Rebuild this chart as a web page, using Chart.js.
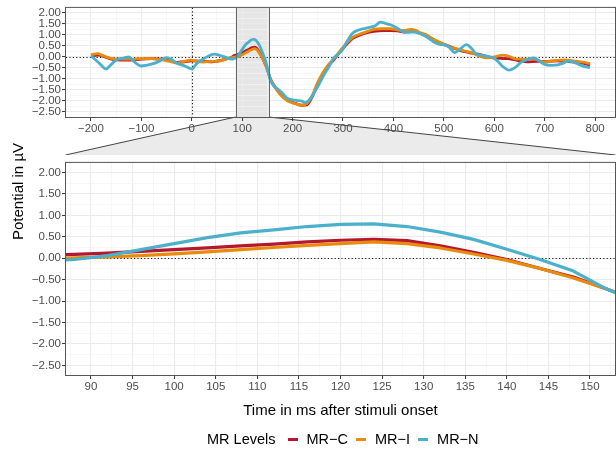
<!DOCTYPE html>
<html>
<head>
<meta charset="utf-8">
<script src="https://cdn.jsdelivr.net/npm/chart.js@4.4.1/dist/chart.umd.min.js"></script>
<style>
  body { margin: 0; background: #fff; }
  #wrap { position: relative; width: 616px; height: 455px; overflow: hidden;
          font-family: "Liberation Sans", Arial, Helvetica, sans-serif; }
  #overview { position: absolute; left: 0; top: 0; }
  #detail { position: absolute; left: 0; top: 155px; }
  #ytitle { position: absolute; left: 9px; top: 140px; height: 102px; line-height: 18px;
            font-size: 15px; font-weight: 400; color: #000; white-space: nowrap; text-align: center;
            writing-mode: vertical-rl; transform: rotate(180deg); }
  #legend { position: absolute; left: 207px; top: 430px; height: 18px; display: flex;
            align-items: center; font-size: 14.5px; font-weight: 400; color: #000; white-space: nowrap; }
  #legend .key { display: inline-block; width: 10px; height: 3px; margin: 0 9px 0 12px; }
  #legend .name { margin-right: -4px; }
</style>
</head>
<body>
<div id="wrap">
  <canvas id="overview" width="616" height="155"></canvas>
  <canvas id="detail" width="616" height="300"></canvas>
  <div id="ytitle">Potential in µV</div>
  <div id="legend"></div>
</div>
<script>
Chart.defaults.font.family = '"Liberation Sans", Arial, Helvetica, sans-serif';
Chart.defaults.color = '#4D4D4D';

const seriesNames = ['MR\u2212C', 'MR\u2212I', 'MR\u2212N'];
const seriesColors = ['#B5172E', '#E88A0B', '#4BB0CC'];

// grand averages: time (ms after onset) and potential (µV)
const mrC_ms = [-200, -185, -170, -155, -140, -122, -100, -80, -60, -45, -30, -15, 0, 24, 40, 64, 80, 84, 88, 92,
  96, 100, 104, 108, 112, 116, 120, 124, 128, 132, 136, 140, 144, 148, 152, 156, 165, 175, 189, 205,
  218, 228, 238, 249, 260, 270, 281, 295, 308, 320, 335, 348, 361, 378, 394, 408, 421, 441, 455, 466,
  480, 495, 506, 520, 532, 550, 572, 598, 626, 645, 665, 685, 704, 724, 744, 765, 780, 790];
const mrC_uv = [0.05, 0.08, -0.02, -0.12, -0.14, -0.14, -0.10, -0.08, -0.10, -0.15, -0.25, -0.22, -0.18, -0.20, -0.22, -0.12, 0.00, 0.06, 0.09, 0.12,
  0.16, 0.20, 0.24, 0.29, 0.33, 0.38, 0.42, 0.44, 0.41, 0.29, 0.14, -0.03, -0.24, -0.44, -0.72, -1.00, -1.35, -1.65, -1.95, -2.10,
  -2.20, -2.18, -1.85, -1.27, -0.80, -0.42, -0.15, 0.25, 0.60, 0.85, 1.01, 1.10, 1.16, 1.20, 1.20, 1.18, 1.13, 1.16, 1.05, 0.95,
  0.75, 0.58, 0.53, 0.40, 0.30, 0.20, 0.10, -0.04, -0.08, -0.15, -0.22, -0.20, -0.20, -0.18, -0.20, -0.25, -0.30, -0.37];

const mrI_ms = [-200, -187, -175, -160, -140, -122, -100, -82, -70, -56, -40, -29, -15, -2, 10, 24, 40, 51, 65, 77,
  84, 88, 92, 96, 100, 104, 108, 112, 116, 120, 124, 128, 132, 136, 140, 144, 148, 152, 156, 165,
  175, 189, 205, 218, 228, 238, 249, 260, 270, 281, 295, 308, 320, 335, 348, 361, 378, 394, 410, 421,
  434, 445, 455, 466, 480, 499, 512, 525, 540, 552, 570, 585, 600, 618, 630, 645, 665, 678, 698, 715,
  731, 745, 757, 775, 790];
const mrI_uv = [0.10, 0.15, 0.05, -0.07, -0.10, -0.10, -0.08, -0.07, -0.10, -0.14, -0.22, -0.28, -0.20, -0.14, -0.20, -0.23, -0.20, -0.20, -0.12, -0.03,
  -0.01, 0.01, 0.03, 0.06, 0.10, 0.15, 0.20, 0.25, 0.30, 0.34, 0.38, 0.34, 0.24, 0.10, -0.05, -0.24, -0.46, -0.72, -1.00, -1.38,
  -1.70, -1.98, -2.12, -2.18, -2.12, -1.80, -1.20, -0.72, -0.38, -0.10, 0.30, 0.65, 0.90, 1.05, 1.15, 1.25, 1.28, 1.28, 1.22, 1.20,
  1.25, 1.20, 1.08, 1.00, 0.80, 0.60, 0.45, 0.38, 0.28, 0.22, 0.05, -0.04, 0.00, 0.08, 0.02, -0.10, -0.10, -0.10, -0.22, -0.18,
  -0.14, -0.15, -0.18, -0.24, -0.30];

const mrN_ms = [-200, -185, -170, -160, -150, -135, -125, -115, -100, -90, -80, -65, -50, -40, -30, -15, 0, 10, 25, 45,
  65, 80, 84, 88, 92, 96, 100, 104, 108, 112, 116, 120, 124, 128, 132, 136, 140, 144, 148, 152,
  156, 162, 169, 178, 189, 200, 209, 218, 225, 233, 242, 252, 262, 272, 281, 290, 298, 308, 318, 326,
  335, 345, 354, 364, 374, 384, 394, 408, 421, 431, 441, 450, 460, 470, 480, 490, 500, 510, 522, 532,
  545, 555, 565, 580, 598, 607, 615, 630, 640, 653, 665, 678, 690, 700, 712, 726, 737, 748, 760, 771,
  780, 790];
const mrN_uv = [0.05, -0.25, -0.54, -0.35, -0.14, -0.05, 0.00, -0.20, -0.41, -0.38, -0.33, -0.20, -0.03, -0.12, -0.28, -0.40, -0.54, -0.30, -0.06, 0.13,
  0.00, -0.10, -0.07, -0.03, 0.06, 0.20, 0.34, 0.48, 0.59, 0.66, 0.74, 0.79, 0.80, 0.74, 0.61, 0.44, 0.21, -0.03, -0.30, -0.72,
  -1.05, -1.30, -1.42, -1.60, -1.87, -1.95, -1.98, -2.00, -2.07, -1.95, -1.65, -1.25, -0.82, -0.45, -0.07, 0.12, 0.30, 0.70, 1.05, 1.18,
  1.25, 1.30, 1.35, 1.42, 1.58, 1.52, 1.46, 1.30, 1.13, 1.12, 1.13, 1.08, 0.98, 0.85, 0.68, 0.58, 0.56, 0.45, 0.20, 0.35,
  0.56, 0.38, 0.12, 0.06, -0.04, -0.20, -0.40, -0.60, -0.50, -0.25, -0.12, -0.04, -0.20, -0.34, -0.38, -0.36, -0.28, -0.19, -0.26, -0.37,
  -0.44, -0.48];

// axis breaks
const overviewXTicks = [-200, -100, 0, 100, 200, 300, 400, 500, 600, 700, 800];
const detailXTicks = [90, 95, 100, 105, 110, 115, 120, 125, 130, 135, 140, 145, 150];
const yTicks = [-2.5, -2, -1.5, -1, -0.5, 0, 0.5, 1, 1.5, 2];

// data window, zoom window and y limits (each padded by 5% like ggplot)
const timeLimits = [-200, 790];
const zoomLimits = [90, 150];
const yLimits = [-2.5, 2.0];

function expand([lo, hi]) {
  const p = (hi - lo) * 0.05;
  return [lo - p, hi + p];
}
const overviewX = expand(timeLimits);
const detailX = expand(zoomLimits);
const yRange = expand(yLimits);

// major breaks plus minor ones halfway between them
function withMinor(major, [lo, hi]) {
  const half = (major[1] - major[0]) / 2;
  const out = [];
  for (let v = major[0] - half; v <= major[major.length - 1] + half + 1e-9; v += half) {
    const r = Math.round(v * 1e6) / 1e6;
    if (r < lo || r > hi) continue;
    out.push({ value: r, minor: !major.some(m => Math.abs(m - r) < 1e-6) });
  }
  return out;
}

const minus = s => s.replace('-', '\u2212');
const fmtX = v => minus(String(v));
const fmtY = v => minus(v.toFixed(2));

const series = [[mrC_ms, mrC_uv], [mrI_ms, mrI_uv], [mrN_ms, mrN_uv]];

// MR-C is drawn first and MR-N last, so MR-N sits on top
function buildDatasets(width, smooth) {
  return series.map(([t, v], i) => ({
    label: seriesNames[i],
    data: t.map((ms, j) => ({ x: ms, y: v[j] })),
    order: series.length - i,
    borderColor: seriesColors[i],
    backgroundColor: seriesColors[i],
    borderWidth: width,
    pointRadius: 0,
    tension: 0,
    cubicInterpolationMode: smooth ? 'monotone' : 'default',
    borderJoinStyle: 'round',
    clip: 0
  }));
}

const gridStyle = {
  color: c => (c.tick && c.tick.minor ? '#F3F3F3' : '#EBEBEB'),
  lineWidth: c => (c.tick && c.tick.minor ? 0.7 : 1.1),
  tickColor: c => (c.tick && c.tick.minor ? 'rgba(0,0,0,0)' : '#333333'),
  tickLength: 4,
  tickWidth: 1
};

function axisOptions(range, major, fmt, size, horizontal) {
  return {
    type: 'linear',
    min: range[0],
    max: range[1],
    grid: gridStyle,
    border: { display: false },
    afterBuildTicks: s => { s.ticks = withMinor(major, range); },
    afterFit: s => { if (horizontal) s.height = size; else s.width = size; },
    ticks: {
      autoSkip: false,
      maxRotation: 0,
      minRotation: 0,
      padding: 1,
      color: '#4D4D4D',
      font: { size: 11.5 },
      callback: (v, i, ticks) => (ticks[i].minor ? '' : fmt(v))
    }
  };
}

// dotted reference lines at 0 µV (and at stimulus onset)
const refLines = {
  id: 'refLines',
  beforeDatasetsDraw(chart, args, opts) {
    const { ctx, chartArea: a, scales: { x, y } } = chart;
    ctx.save();
    ctx.strokeStyle = '#1A1A1A';
    ctx.lineWidth = 1.1;
    ctx.setLineDash([1.2, 2.2]);
    const y0 = Math.round(y.getPixelForValue(0)) + 0.5;
    ctx.beginPath();
    ctx.moveTo(a.left, y0);
    ctx.lineTo(a.right, y0);
    ctx.stroke();
    if (opts.onset) {
      const x0 = Math.round(x.getPixelForValue(0)) + 0.5;
      ctx.beginPath();
      ctx.moveTo(x0, a.top);
      ctx.lineTo(x0, a.bottom);
      ctx.stroke();
    }
    ctx.restore();
  }
};

const panelBorder = {
  id: 'panelBorder',
  afterDatasetsDraw(chart) {
    const { ctx, chartArea: a } = chart;
    ctx.save();
    ctx.strokeStyle = '#555555';
    ctx.lineWidth = 1;
    ctx.strokeRect(a.left - 0.5, a.top - 0.5, a.width + 1, a.height + 1);
    ctx.restore();
  }
};

// shaded zoom window and the funnel leading down to the detail panel
const zoomBand = {
  id: 'zoomBand',
  beforeDraw(chart) {
    const { ctx, chartArea: a, scales: { x } } = chart;
    const x0 = x.getPixelForValue(detailX[0]);
    const x1 = x.getPixelForValue(detailX[1]);
    ctx.save();
    ctx.fillStyle = '#EBEBEB';
    ctx.beginPath();
    ctx.moveTo(x0, a.bottom);
    ctx.lineTo(x1, a.bottom);
    ctx.lineTo(a.right + 0.5, chart.height);
    ctx.lineTo(a.left - 0.5, chart.height);
    ctx.closePath();
    ctx.fill();
    ctx.strokeStyle = '#444444';
    ctx.lineWidth = 1;
    ctx.beginPath();
    ctx.moveTo(x0, a.bottom);
    ctx.lineTo(a.left - 0.5, chart.height);
    ctx.moveTo(x1, a.bottom);
    ctx.lineTo(a.right + 0.5, chart.height);
    ctx.stroke();
    ctx.fillStyle = '#E6E6E6';
    ctx.fillRect(x0, a.top, x1 - x0, a.height);
    ctx.restore();
  },
  afterDatasetsDraw(chart) {
    const { ctx, chartArea: a, scales: { x } } = chart;
    ctx.save();
    ctx.strokeStyle = '#666666';
    ctx.lineWidth = 1;
    ctx.beginPath();
    [detailX[0], detailX[1]].forEach(v => {
      const px = Math.round(x.getPixelForValue(v)) + 0.5;
      ctx.moveTo(px, a.top);
      ctx.lineTo(px, a.bottom);
    });
    ctx.stroke();
    ctx.restore();
  }
};

new Chart(document.getElementById('overview'), {
  type: 'line',
  data: { datasets: buildDatasets(2.8, true) },
  options: {
    responsive: false,
    animation: false,
    devicePixelRatio: 1,
    layout: { padding: { top: 7, right: 1, bottom: 0, left: 0 } },
    scales: {
      x: axisOptions(overviewX, overviewXTicks, fmtX, 38, true),
      y: axisOptions(yRange, yTicks, fmtY, 66, false)
    },
    plugins: {
      legend: { display: false },
      tooltip: { enabled: false },
      refLines: { onset: true }
    }
  },
  plugins: [zoomBand, refLines, panelBorder]
});

const detailXAxis = axisOptions(detailX, detailXTicks, fmtX, 80, true);
detailXAxis.title = {
  display: true,
  text: 'Time in ms after stimuli onset',
  color: '#000000',
  font: { size: 15 },
  padding: { top: 0, bottom: 35 }
};

new Chart(document.getElementById('detail'), {
  type: 'line',
  data: { datasets: buildDatasets(3.2, false) },
  options: {
    responsive: false,
    animation: false,
    devicePixelRatio: 1,
    layout: { padding: { top: 1, right: 1, bottom: 0, left: 0 } },
    scales: {
      x: detailXAxis,
      y: axisOptions(yRange, yTicks, fmtY, 66, false)
    },
    plugins: {
      legend: { display: false },
      tooltip: { enabled: false },
      refLines: { onset: false }
    }
  },
  plugins: [refLines, panelBorder]
});

// legend row: "MR Levels" followed by one coloured key per series
const legend = document.getElementById('legend');
const legendTitle = document.createElement('span');
legendTitle.textContent = 'MR Levels';
legend.appendChild(legendTitle);
seriesNames.forEach((name, i) => {
  const key = document.createElement('span');
  key.className = 'key';
  key.style.background = seriesColors[i];
  legend.appendChild(key);
  const label = document.createElement('span');
  label.className = 'name';
  label.textContent = name;
  legend.appendChild(label);
});
</script>
</body>
</html>
